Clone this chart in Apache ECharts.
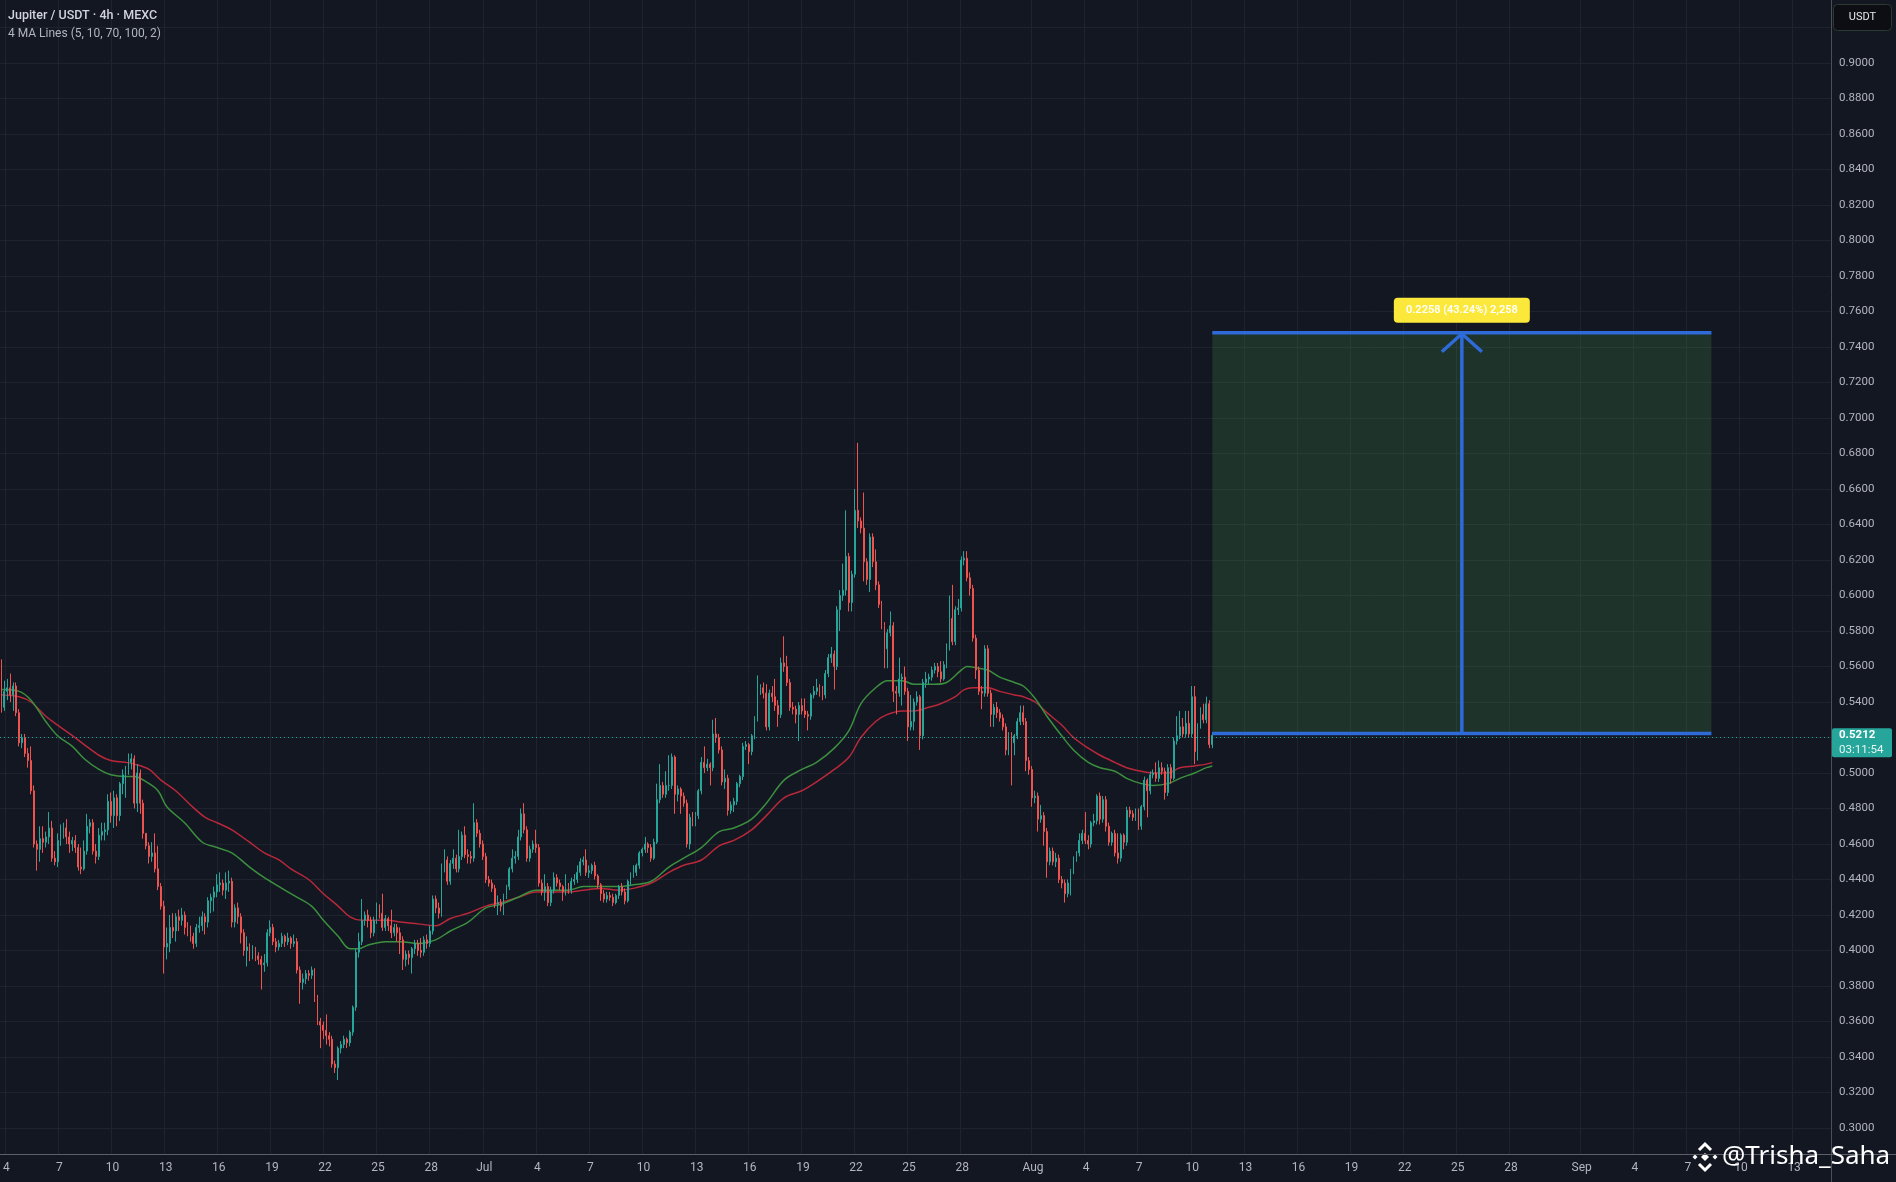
<!DOCTYPE html>
<html><head><meta charset="utf-8">
<script src="https://cdn.jsdelivr.net/npm/echarts@6/dist/echarts.min.js"></script>
<style>html,body{margin:0;padding:0;background:#131722;overflow:hidden}#c{width:1896px;height:1182px}</style>
</head><body><div id="c"></div>
<script>
// ---------- DATA ----------
const startTimeUTC = Date.UTC(2025, 5, 3, 20); // first 4h slot shown (Jun 3, 20:00)
const slotHours = 4;
const slotCount = 620;                          // 4h slots across the visible time range
const monthNames = ['Jan','Feb','Mar','Apr','May','Jun','Jul','Aug','Sep','Oct','Nov','Dec'];
const tickDays = [1, 4, 7, 10, 13, 16, 19, 22, 25, 28];
const priceTicksHidden = [0.28, 0.92];

// OHLC candles, [open, close, low, high] in 1/1000 USDT, one per 4h slot from Jun 3 20:00
const candles = [
[562,537,534,564],[537,546,535,552],[546,548,541,553],[548,544,540,556],[544,549,535,551],[549,534,532,551],[534,517,515,536],
[517,520,514,522],[520,511,509,522],[511,507,503,514],[507,490,488,515],[490,460,458,493],[460,457,445,462],
[457,463,450,470],[463,461,455,470],[461,464,458,467],[464,469,460,478],[469,452,450,473],[452,450,448,456],
[450,462,447,466],[462,466,459,471],[466,469,463,472],[469,464,460,474],[464,460,455,467],[460,462,456,464],
[462,458,455,465],[458,447,445,460],[447,446,443,458],[446,456,445,462],[456,470,454,477],[470,472,466,474],
[472,456,454,474],[456,453,449,460],[453,465,451,469],[465,467,462,472],[467,468,462,472],[468,484,465,488],
[484,476,472,489],[476,486,469,490],[486,476,470,488],[476,494,473,495],[494,499,488,502],[499,502,486,504],
[502,506,499,511],[506,508,502,511],[508,483,480,510],[483,500,478,505],[500,483,477,502],[483,466,463,485],
[466,459,457,466],[459,453,449,461],[453,455,450,461],[455,446,444,466],[446,436,434,459],[436,425,423,438],
[425,402,387,428],[402,404,395,413],[404,413,399,420],[413,411,407,421],[411,419,405,421],[419,417,411,423],
[417,420,414,424],[420,413,409,422],[413,411,408,416],[411,408,405,414],[408,404,401,410],[404,413,402,415],
[413,414,410,419],[414,419,411,422],[419,416,409,421],[416,428,413,430],[428,430,421,432],[430,433,422,436],
[433,437,430,443],[437,438,433,444],[438,434,431,440],[434,438,429,444],[438,439,433,445],[439,416,413,441],
[416,424,413,426],[424,419,415,427],[419,410,404,421],[410,400,397,412],[400,402,391,408],[402,398,394,404],
[398,400,395,403],[400,397,394,402],[397,395,392,399],[395,392,378,397],[392,393,388,398],[393,410,391,412],
[410,413,408,417],[413,405,403,415],[405,402,399,407],[402,404,400,406],[404,408,402,410],[408,405,402,409],
[405,407,403,410],[407,404,401,408],[404,405,402,409],[405,389,387,407],[389,382,370,391],[382,384,378,387],
[384,387,381,389],[387,386,383,389],[386,389,384,391],[389,373,371,390],[373,360,358,375],[360,358,345,362],
[358,355,350,360],[355,352,347,364],[352,350,346,354],[350,336,334,352],[336,334,331,338],[334,345,327,346],
[345,347,342,349],[347,350,345,352],[350,348,345,351],[348,354,346,355],[354,368,352,369],[368,399,366,401],
[399,405,396,410],[405,417,403,429],[417,420,414,422],[420,417,413,423],[417,410,407,419],[410,417,408,419],
[417,425,415,427],[425,421,418,426],[421,413,411,432],[413,418,411,420],[418,414,411,419],[414,410,407,423],
[410,413,408,415],[413,410,405,415],[410,406,398,413],[406,395,389,408],[395,398,391,400],[398,396,392,400],
[396,401,387,402],[401,404,398,406],[404,400,397,406],[400,399,396,407],[399,406,397,408],[406,404,401,409],
[404,411,402,414],[411,429,409,431],[429,424,421,431],[424,421,418,427],[421,447,419,449],[447,451,444,457],
[451,439,437,453],[439,449,437,451],[449,452,446,457],[452,446,444,454],[446,453,444,468],[453,465,451,467],
[465,454,452,470],[454,453,449,457],[453,452,449,456],[452,472,450,483],[472,466,464,474],[466,460,458,468],
[460,453,451,462],[453,440,438,455],[440,438,436,442],[438,435,433,440],[435,426,424,437],[426,427,420,431],
[427,425,422,429],[425,431,420,432],[431,436,429,437],[436,446,434,447],[446,452,444,457],[452,453,449,456],
[453,464,451,468],[464,477,462,480],[477,468,466,483],[468,452,450,470],[452,457,450,459],[457,460,455,462],
[460,458,455,468],[458,438,436,460],[438,433,431,440],[433,436,428,443],[436,427,425,438],[427,434,425,436],
[434,441,432,444],[441,438,436,443],[438,436,434,440],[436,433,428,437],[433,436,431,443],[436,434,432,438],
[434,439,432,441],[439,440,437,443],[440,444,438,448],[444,450,442,452],[450,451,448,453],[451,444,442,457],
[444,445,441,448],[445,448,443,449],[448,442,440,450],[442,437,435,443],[437,432,428,438],[432,429,427,434],
[429,431,427,433],[431,430,428,433],[430,427,425,432],[427,431,426,432],[431,436,429,437],[436,433,431,438],
[433,428,426,435],[428,439,427,440],[439,443,437,444],[443,444,441,448],[444,448,442,449],[448,455,446,456],
[455,457,453,458],[457,460,455,464],[460,458,455,461],[458,452,450,460],[452,461,451,463],[461,485,460,494],
[485,493,483,505],[493,488,486,495],[488,493,486,501],[493,493,490,510],[493,509,491,511],[509,488,477,510],
[488,491,484,493],[491,487,477,492],[487,483,481,489],[483,460,458,485],[460,475,457,477],[475,472,470,478],
[472,476,470,478],[476,490,474,491],[490,506,488,509],[506,503,500,515],[503,505,501,508],[505,503,493,506],
[503,522,501,530],[522,520,517,531],[520,513,511,522],[513,495,493,515],[495,497,491,502],[497,479,476,499],
[479,482,477,484],[482,484,478,486],[484,494,482,495],[494,498,492,499],[498,515,496,517],[515,516,513,518],
[516,512,505,517],[512,521,510,522],[521,531,519,532],[531,547,529,555],[547,548,544,550],[548,545,542,551],
[545,526,524,550],[526,545,524,547],[545,543,540,549],[543,538,535,553],[538,533,526,541],[533,562,531,565],
[562,560,557,577],[560,551,549,566],[551,537,535,553],[537,536,533,540],[536,533,528,538],[533,538,518,540],
[538,535,533,542],[535,533,531,542],[533,532,524,535],[532,544,530,545],[544,546,542,549],[546,548,544,553],
[548,547,543,550],[547,544,541,549],[544,556,542,558],[556,565,554,567],[565,567,562,571],[567,560,547,569],
[560,592,558,594],[592,600,580,603],[600,603,597,618],[603,622,600,648],[622,596,591,624],[596,612,591,614],
[612,648,610,660],[648,642,638,686],[642,638,635,644],[638,619,608,658],[619,609,606,621],[609,633,602,635],
[633,619,616,635],[619,606,603,626],[606,595,593,608],[595,583,581,597],[583,570,559,585],[570,579,559,581],
[579,583,577,591],[583,546,540,585],[546,545,533,549],[545,553,543,565],[553,554,538,556],[554,546,544,560],
[546,526,518,548],[526,529,524,544],[529,540,524,542],[540,543,538,546],[543,521,513,544],[521,551,519,553],
[551,553,548,557],[553,554,550,556],[554,558,552,560],[558,560,556,562],[560,557,554,562],[557,553,551,563],
[553,561,552,563],[561,571,559,573],[571,587,569,600],[587,574,572,606],[574,592,572,594],[592,593,589,598],
[593,620,591,622],[620,621,617,625],[621,610,608,625],[610,604,600,613],[604,576,574,606],[576,558,553,578],
[558,546,544,560],[546,545,536,549],[545,570,543,572],[570,545,543,572],[545,533,526,547],[533,537,526,539],
[537,534,531,540],[534,531,529,536],[531,526,524,533],[526,513,510,528],[513,521,510,523],[521,517,493,523],
[517,521,510,522],[521,529,519,531],[529,534,527,538],[534,529,527,538],[529,507,501,531],[507,502,499,509],
[502,486,481,504],[486,487,483,490],[487,474,467,489],[474,476,472,482],[476,467,459,478],[467,450,441,469],
[450,456,448,458],[456,450,448,458],[450,452,447,455],[452,440,438,454],[440,438,435,442],[438,432,427,440],
[432,438,430,440],[438,445,431,446],[445,452,443,453],[452,455,450,456],[455,462,453,466],[462,466,460,468],
[466,462,460,478],[462,460,457,465],[460,472,458,473],[472,473,470,477],[473,487,471,488],[487,474,471,489],
[474,485,472,487],[485,470,467,487],[470,461,459,472],[461,466,459,467],[466,455,453,468],[455,452,449,466],
[452,465,450,466],[465,461,457,466],[461,479,459,481],[479,477,475,481],[477,475,473,479],[475,478,473,480],
[478,470,468,480],[470,481,468,482],[481,496,479,498],[496,490,475,497],[490,499,488,501],[499,500,497,502],
[500,497,495,506],[497,503,495,507],[503,501,499,506],[501,489,485,503],[489,503,487,505],[503,497,494,505],
[497,518,496,520],[518,521,516,532],[521,526,519,535],[526,522,520,531],[522,528,520,535],[528,522,520,535],
[522,543,520,549],[543,512,505,549],[512,527,507,528],[527,533,525,537],[533,530,528,539],[530,539,528,543],
[539,516,514,541],[516,521.2,514,523]
];

// moving averages: [slot index, value in 1/1000 USDT]
const maGreen = [[0,547],[6,546],[10,541],[15,529],[19,521],[24,515],[28,508],[33,502],[37,499],[42,498],[45,498],[49,495],[53,490],[56,481],[62,472],[68,461],[73,458],[78,455],[84,447],[89,441],[94,436],[99,431],[105,425],[109,417],[114,408],[118,401],[121,401],[124,403],[130,405],[135,405],[141,404],[147,406],[152,411],[158,416],[164,424],[169,426],[175,430],[181,434],[186,434],[192,434],[197,436],[203,436],[209,436],[214,437],[220,439],[226,447],[231,452],[237,458],[243,467],[248,469],[254,474],[259,483],[265,496],[271,502],[276,506],[282,514],[287,524],[291,539],[296,548],[300,552],[305,552],[309,550],[316,550],[320,551],[325,558],[327,560],[331,559],[334,558],[338,554],[343,551],[346,549],[350,542],[354,532],[359,521],[363,513],[368,506],[372,503],[377,501],[381,497],[386,494],[390,493],[395,494],[399,497],[404,500],[408,503],[410,504]];
const maRed = [[0,544],[6,543],[10,540],[15,532],[19,527],[24,521],[28,516],[33,510],[37,507],[42,506],[45,505],[50,502],[54,496],[59,490],[64,482],[69,475],[73,472],[78,468],[84,461],[89,455],[94,451],[98,446],[104,440],[109,432],[114,425],[118,419],[122,417],[126,417],[131,417],[135,416],[141,415],[147,414],[152,418],[158,421],[164,425],[169,427],[175,430],[181,433],[186,433],[192,433],[197,434],[203,435],[209,434],[214,435],[220,438],[226,444],[231,448],[237,451],[243,459],[248,462],[254,468],[259,476],[265,486],[271,490],[276,495],[282,502],[287,509],[291,520],[296,529],[300,533],[305,535],[309,535],[314,537],[318,539],[323,543],[326,547],[329,548],[334,548],[338,546],[343,544],[346,543],[350,540],[354,534],[359,527],[363,520],[368,514],[372,510],[377,506],[381,503],[386,501],[390,500],[395,500],[399,503],[404,504],[408,505],[410,506]];

const lastPrice = 0.5212;
const countdown = '03:11:54';
// long-position tool
const posStartSlot = 410, posEndSlot = 579;
const entryPrice = 0.5222, targetPrice = 0.7480;
const positionLabel = '0.2258 (43.24%) 2,258';
const titleText = 'Jupiter / USDT · 4h · MEXC';
const subtitleText = '4 MA Lines (5, 10, 70, 100, 2)';
const watermarkText = '@Trisha_Saha';

// ---------- BUILD ----------
const categories = [];
for (let i = 0; i < slotCount; i++) categories.push(startTimeUTC + i * slotHours * 3600e3);
function isTick(idx) {
  const d = new Date(categories[idx]);
  return d.getUTCHours() === 0 && tickDays.includes(d.getUTCDate());
}
const candleData = candles.map(r => r.map(v => v / 1000));
const greenData = maGreen.map(p => [p[0], p[1] / 1000]);
const redData = maRed.map(p => [p[0], p[1] / 1000]);

const BG = '#131722', GRID = '#1f2330', TXT = '#b2b5be', UP = '#26a69a', DOWN = '#ef5350', BLUE = '#2f6bd8';
const FONT = 'Roboto, "Noto Sans", sans-serif';

const chart = echarts.init(document.getElementById('c'), null, {renderer: 'canvas'});
const option = {
  backgroundColor: BG,
  animation: false,
  grid: [
    {left: 0, right: 65, top: 27.5, bottom: 18.5},
    {left: 0, right: 65, top: 0, bottom: 28}
  ],
  xAxis: [
    {type: 'category', gridIndex: 0, data: categories, boundaryGap: true, show: false},
    {type: 'category', gridIndex: 1, data: categories, boundaryGap: true,
     axisLine: {show: false}, axisTick: {show: false},
     axisLabel: {interval: (i) => isTick(i), color: TXT, fontSize: 12, fontFamily: FONT, margin: 8,
       formatter: (v) => { const d = new Date(+v); return d.getUTCDate() === 1 ? monthNames[d.getUTCMonth()] : String(d.getUTCDate()); }},
     splitLine: {show: true, interval: (i) => isTick(i), lineStyle: {color: GRID, width: 1}}}
  ],
  yAxis: [
    {type: 'value', gridIndex: 0, position: 'right', min: 0.28, max: 0.92, interval: 0.02, scale: true,
     axisLine: {show: false}, axisTick: {show: false},
     axisLabel: {color: TXT, fontSize: 11.5, fontFamily: FONT, margin: 8, align: 'left',
       formatter: (v) => priceTicksHidden.some(h => Math.abs(h - v) < 1e-6) ? '' : v.toFixed(4)},
     splitLine: {show: true, showMinLine: false, showMaxLine: true, lineStyle: {color: GRID, width: 1}}},
    {type: 'value', gridIndex: 1, min: 0, max: 1, show: false}
  ],
  series: [
    {type: 'line', name: 'MA red', xAxisIndex: 0, yAxisIndex: 0, data: redData, smooth: 0.35, showSymbol: false,
     lineStyle: {color: '#b8283a', width: 1.5}, z: 1},
    {type: 'line', name: 'MA green', xAxisIndex: 0, yAxisIndex: 0, data: greenData, smooth: 0.35, showSymbol: false,
     lineStyle: {color: '#3c8f3f', width: 1.5}, z: 1},
    {type: 'candlestick', xAxisIndex: 0, yAxisIndex: 0, data: candleData, barWidth: 1.4, z: 3,
     itemStyle: {color: UP, color0: DOWN, borderColor: UP, borderColor0: DOWN, borderWidth: 1},
     markLine: {silent: true, symbol: ['none', 'none'], animation: false,
       data: [{yAxis: lastPrice}], label: {show: false},
       lineStyle: {color: UP, type: [1, 3], width: 1}}},
    {type: 'custom', xAxisIndex: 0, yAxisIndex: 0, z: 4, clip: false,
     data: [[posStartSlot, posEndSlot, entryPrice, targetPrice]],
     encode: {x: [0, 1], y: [2, 3]},
     renderItem: (params, api) => {
       const pT = api.coord([api.value(0), api.value(3)]);
       const pB = api.coord([api.value(1), api.value(2)]);
       const x0 = pT[0], x1 = pB[0], yT = pT[1], yB = pB[1];
       const xm = (x0 + x1) / 2;
       const ls = {stroke: BLUE, lineWidth: 3.5, fill: null};
       return {type: 'group', children: [
         {type: 'rect', shape: {x: x0, y: yT, width: x1 - x0, height: yB - yT}, style: {fill: 'rgba(63,135,62,0.25)'}},
         {type: 'line', shape: {x1: xm, y1: yB, x2: xm, y2: yT + 1}, style: ls},
         {type: 'line', shape: {x1: x0, y1: yT, x2: x1, y2: yT}, style: ls},
         {type: 'line', shape: {x1: x0, y1: yB, x2: x1, y2: yB}, style: ls},
         {type: 'polyline', shape: {points: [[xm - 20, yT + 19], [xm, yT + 1], [xm + 20, yT + 19]]}, style: ls},
         {type: 'rect', shape: {x: xm - 68, y: yT - 35, width: 136, height: 25, r: 4}, style: {fill: '#fce83a'}},
         {type: 'text', x: xm, y: yT - 22.5, style: {text: positionLabel, fill: '#ffffff', font: '600 11px ' + FONT, align: 'center', verticalAlign: 'middle'}}
       ]};
     }}
  ]
};
chart.setOption(option);

const yLast = chart.convertToPixel({yAxisIndex: 0}, lastPrice);
const W = 1896, H = 1182, axisX = 1831, axisY = 1154;
chart.setOption({graphic: [
  {type: 'line', shape: {x1: axisX + 0.5, y1: 0, x2: axisX + 0.5, y2: H}, style: {stroke: '#4a4e59', lineWidth: 1}, z: 10},
  {type: 'line', shape: {x1: 0, y1: axisY + 0.5, x2: W, y2: axisY + 0.5}, style: {stroke: '#5d606b', lineWidth: 1}, z: 10},
  {type: 'text', x: 8, y: 16, style: {text: titleText, fill: '#d1d4dc', font: '500 12.5px ' + FONT, verticalAlign: 'middle'}, z: 10},
  {type: 'text', x: 8, y: 34, style: {text: subtitleText, fill: '#b2b5be', font: '12px ' + FONT, verticalAlign: 'middle'}, z: 10},
  {type: 'rect', shape: {x: 1833.5, y: 4.5, width: 58, height: 26, r: 4}, style: {fill: '#0c0e13', stroke: '#2c3a33', lineWidth: 1}, z: 10},
  {type: 'text', x: 1862.5, y: 17.5, style: {text: 'USDT', fill: '#e6e8ee', font: '11px ' + FONT, align: 'center', verticalAlign: 'middle'}, z: 11},
  {type: 'rect', shape: {x: axisX + 1, y: yLast - 7, width: 60, height: 29, r: 2}, style: {fill: UP}, z: 10},
  {type: 'text', x: 1839, y: yLast, style: {text: lastPrice.toFixed(4), fill: '#ffffff', font: 'bold 11.5px ' + FONT, verticalAlign: 'middle'}, z: 11},
  {type: 'text', x: 1839, y: yLast + 15, style: {text: countdown, fill: '#e8f5f3', font: '11.5px ' + FONT, verticalAlign: 'middle'}, z: 11},
  // watermark logo
  {type: 'group', x: 1705, y: 1157, z: 20, children: [
    {type: 'polygon', shape: {points: [[0,-4],[4,0],[0,4],[-4,0]]}, style: {fill: '#ffffff'}},
    {type: 'polygon', shape: {points: [[-10,-2.5],[-7.5,0],[-10,2.5],[-12.5,0]]}, style: {fill: '#ffffff'}},
    {type: 'polygon', shape: {points: [[10,-2.5],[12.5,0],[10,2.5],[7.5,0]]}, style: {fill: '#ffffff'}},
    {type: 'polyline', shape: {points: [[-6,-7],[0,-13],[6,-7]]}, style: {stroke: '#ffffff', lineWidth: 3, fill: null}},
    {type: 'polyline', shape: {points: [[-6,7],[0,13],[6,7]]}, style: {stroke: '#ffffff', lineWidth: 3, fill: null}}
  ]},
  {type: 'text', x: 1722, y: 1157, z: 20, style: {text: watermarkText, fill: '#ffffff', font: '26px "Noto Sans", sans-serif', verticalAlign: 'middle'}}
]});
</script>
</body></html>
